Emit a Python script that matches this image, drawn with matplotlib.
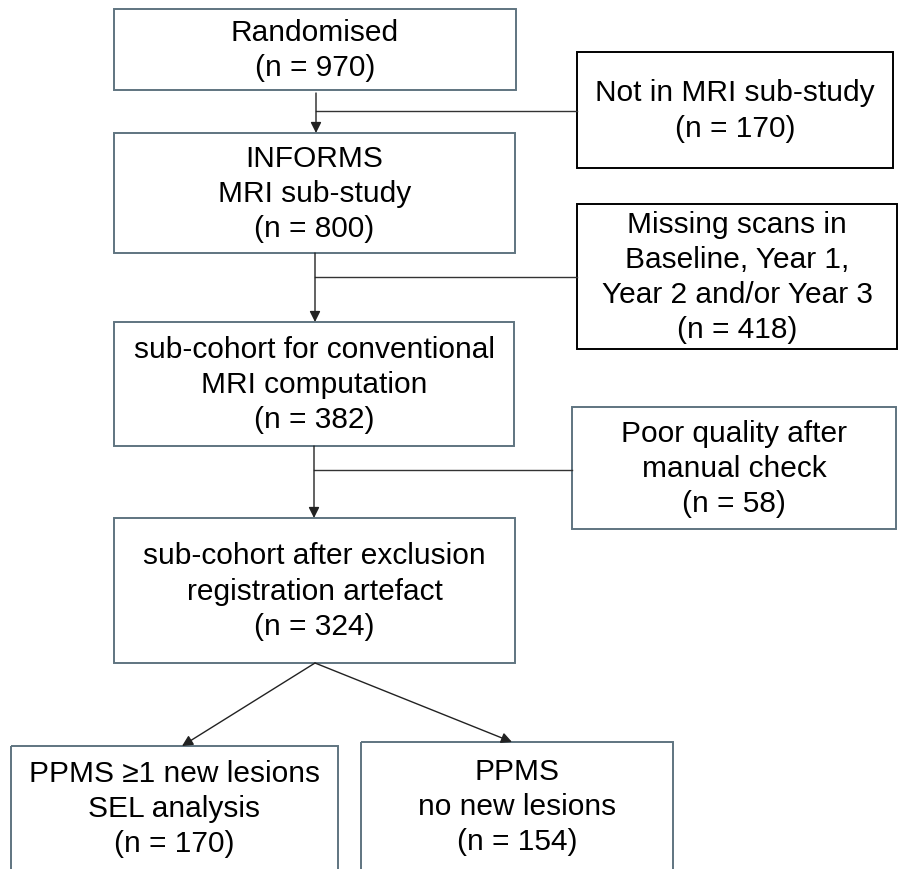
import matplotlib.pyplot as plt
from matplotlib.patches import Rectangle

plt.rcParams['font.family'] = ['Liberation Sans', 'DejaVu Sans']

# box texts
main_labels = [
    "Randomised\n(n = 970)",
    "INFORMS\nMRI sub-study\n(n = 800)",
    "sub-cohort for conventional\nMRI computation\n(n = 382)",
    "sub-cohort after exclusion\nregistration artefact\n(n = 324)",
]
excluded_labels = [
    "Not in MRI sub-study\n(n = 170)",
    "Missing scans in\nBaseline, Year 1,\nYear 2 and/or Year 3\n(n = 418)",
    "Poor quality after\nmanual check\n(n = 58)",
]
split_labels = [
    "PPMS \u22651 new lesions\nSEL analysis\n(n = 170)",
    "PPMS\nno new lesions\n(n = 154)",
]

# layout in pixels (x0, y0, x1, y1), y measured from the top
main_boxes = [(114, 9, 516, 90), (114, 133, 515, 253),
              (114, 322, 514, 446), (114, 518, 515, 663)]
excl_boxes = [(577, 52, 893, 168), (577, 204, 897, 349), (572, 407, 896, 529)]
excl_edge = ['black', 'black', '#5f7480']
split_boxes = [(11, 746, 338, 880), (361, 742, 673, 880)]
split_text_y = [809, 807]

blue_grey = '#5f7480'

fig = plt.figure(figsize=(8.98, 8.69), dpi=100)
ax = fig.add_axes([0, 0, 1, 1])
ax.set_xlim(0, 898)
ax.set_ylim(869, 0)
ax.axis('off')


def box(b, label, edge, ty=None, lw=1.4):
    x0, y0, x1, y1 = b
    ax.add_patch(Rectangle((x0, y0), x1 - x0, y1 - y0, fill=False,
                           edgecolor=edge, lw=lw))
    if ty is None:
        ty = (y0 + y1) / 2 + 1
    ax.text((x0 + x1) / 2, ty, label, ha='center', va='center',
            fontsize=21.5, linespacing=1.33, color='black')


for b, lab in zip(main_boxes, main_labels):
    box(b, lab, blue_grey)
for b, lab, e in zip(excl_boxes, excluded_labels, excl_edge):
    box(b, lab, e)
for b, lab, ty in zip(split_boxes, split_labels, split_text_y):
    box(b, lab, blue_grey, ty)

arrow = dict(arrowstyle='-|>', color='#222222', lw=1.0, mutation_scale=16,
             shrinkA=0, shrinkB=0)

# vertical arrows with side branches
stems = [(316, 93, 133, 111, 577), (315, 253, 322, 277, 577),
         (314, 446, 518, 470, 572)]
for x, ya, yb, yh, xe in stems:
    ax.annotate('', xy=(x, yb), xytext=(x, ya), arrowprops=arrow)
    ax.plot([x, xe], [yh, yh], color='#333333', lw=1.0)

# split arrows
ax.annotate('', xy=(182, 746), xytext=(315, 663), arrowprops=arrow)
ax.annotate('', xy=(512, 742), xytext=(315, 663), arrowprops=arrow)

plt.savefig('out.png', dpi=100)
